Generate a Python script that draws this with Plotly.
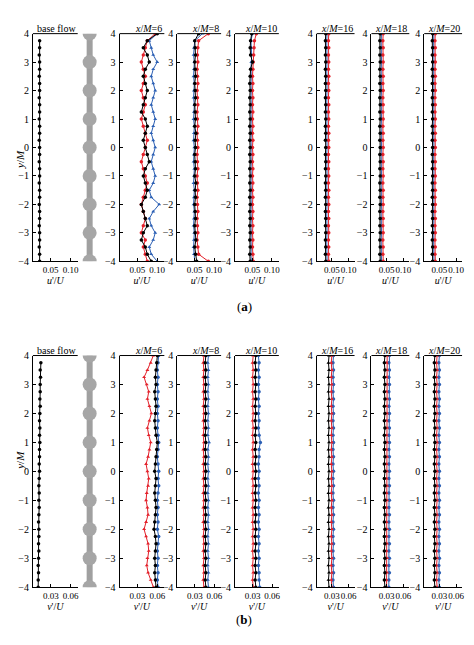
import plotly.graph_objects as go

W, H = 474, 645
y_pos = [-4, -3.75, -3.5, -3.25, -3, -2.75, -2.5, -2.25, -2, -1.75, -1.5, -1.25, -1, -0.75, -0.5, -0.25,
         0, 0.25, 0.5, 0.75, 1, 1.25, 1.5, 1.75, 2, 2.25, 2.5, 2.75, 3, 3.25, 3.5, 3.75, 4]
y_base = y_pos[:-1]
rod_nodes = [-4, -3, -2, -1, 0, 1, 2, 3, 4]
panel_titles = ["base flow", "<i>x</i>/<i>M</i>=6", "<i>x</i>/<i>M</i>=8", "<i>x</i>/<i>M</i>=10",
                "<i>x</i>/<i>M</i>=16", "<i>x</i>/<i>M</i>=18", "<i>x</i>/<i>M</i>=20"]
y_ticks = [-4, -3, -2, -1, 0, 1, 2, 3, 4]
u_ticks = [0.05, 0.10]
u_ticklabels = ["0.05", "0.10"]
v_ticks = [0.03, 0.06]
v_ticklabels = ["0.03", "0.06"]

# ---- u'/U (a)
u_base = [0.022, 0.022, 0.021, 0.022, 0.022, 0.021, 0.022, 0.022, 0.021, 0.022, 0.022, 0.021, 0.022, 0.022, 0.021, 0.022,
          0.022, 0.021, 0.022, 0.022, 0.021, 0.022, 0.022, 0.021, 0.022, 0.022, 0.021, 0.022, 0.022, 0.021, 0.022, 0.022]
u6_red = [0.075, 0.07, 0.065, 0.07, 0.06, 0.065, 0.07, 0.065, 0.06, 0.065, 0.07, 0.075, 0.07, 0.065, 0.06, 0.065,
          0.07, 0.075, 0.07, 0.065, 0.06, 0.065, 0.07, 0.065, 0.06, 0.065, 0.07, 0.065, 0.06, 0.065, 0.07, 0.075, 0.095]
u6_blue = [0.1, 0.085, 0.08, 0.09, 0.095, 0.085, 0.08, 0.09, 0.105, 0.085, 0.08, 0.09, 0.095, 0.09, 0.085, 0.09,
           0.095, 0.09, 0.085, 0.09, 0.095, 0.09, 0.085, 0.09, 0.095, 0.09, 0.085, 0.09, 0.1, 0.09, 0.085, 0.08, 0.1]
u6_black = [0.085, 0.075, 0.07, 0.06, 0.065, 0.075, 0.07, 0.065, 0.06, 0.07, 0.075, 0.07, 0.065, 0.07, 0.08, 0.075,
            0.07, 0.065, 0.07, 0.075, 0.07, 0.06, 0.065, 0.07, 0.075, 0.07, 0.065, 0.07, 0.08, 0.075, 0.065, 0.075, 0.1]
u8_red = [0.085, 0.06, 0.058, 0.056, 0.058, 0.057, 0.056, 0.058, 0.057, 0.056, 0.058, 0.057, 0.056, 0.058, 0.057, 0.056,
          0.058, 0.057, 0.056, 0.058, 0.057, 0.056, 0.058, 0.057, 0.056, 0.058, 0.057, 0.056, 0.058, 0.057, 0.058, 0.06, 0.085]
u8_blue = [0.05, 0.048, 0.047, 0.048, 0.049, 0.047, 0.048, 0.049, 0.047, 0.048, 0.049, 0.047, 0.048, 0.049, 0.047, 0.048,
           0.049, 0.047, 0.048, 0.049, 0.047, 0.048, 0.049, 0.047, 0.048, 0.049, 0.047, 0.048, 0.049, 0.047, 0.048, 0.05, 0.07]
u8_black = [0.055, 0.052, 0.05, 0.053, 0.051, 0.05, 0.052, 0.051, 0.05, 0.052, 0.051, 0.053, 0.05, 0.052, 0.051, 0.05,
            0.052, 0.051, 0.053, 0.05, 0.052, 0.051, 0.05, 0.052, 0.051, 0.05, 0.052, 0.051, 0.05, 0.052, 0.051, 0.05, 0.06]
u10_red = [0.052, 0.051, 0.05, 0.051, 0.05, 0.051, 0.05, 0.051, 0.05, 0.051, 0.05, 0.051, 0.05, 0.051, 0.05, 0.051,
           0.05, 0.051, 0.05, 0.051, 0.05, 0.051, 0.05, 0.051, 0.05, 0.051, 0.05, 0.051, 0.052, 0.053, 0.054, 0.055, 0.06]
u10_blue = [0.047, 0.046, 0.047, 0.046, 0.047, 0.046, 0.047, 0.046, 0.047, 0.046, 0.047, 0.046, 0.047, 0.046, 0.047, 0.046,
            0.047, 0.046, 0.047, 0.046, 0.047, 0.046, 0.047, 0.046, 0.047, 0.046, 0.047, 0.046, 0.047, 0.048, 0.047, 0.046, 0.05]
u10_black = [0.044, 0.043, 0.044, 0.043, 0.044, 0.043, 0.044, 0.043, 0.044, 0.043, 0.044, 0.043, 0.044, 0.043, 0.044, 0.043,
             0.044, 0.043, 0.044, 0.043, 0.044, 0.043, 0.044, 0.043, 0.044, 0.043, 0.044, 0.045, 0.05, 0.045, 0.044, 0.045, 0.048]
u16_red = [0.041, 0.04, 0.041, 0.04, 0.041, 0.04, 0.041, 0.04, 0.041, 0.04, 0.041, 0.04, 0.041, 0.04, 0.041, 0.04,
           0.041, 0.04, 0.041, 0.04, 0.041, 0.04, 0.041, 0.04, 0.041, 0.04, 0.041, 0.04, 0.041, 0.04, 0.041, 0.04, 0.041]
u16_blue = [0.036, 0.035, 0.036, 0.035, 0.036, 0.035, 0.036, 0.035, 0.036, 0.035, 0.036, 0.035, 0.036, 0.035, 0.036, 0.035,
            0.036, 0.035, 0.036, 0.035, 0.036, 0.035, 0.036, 0.035, 0.036, 0.035, 0.036, 0.035, 0.036, 0.035, 0.036, 0.035, 0.036]
u16_black = [0.032, 0.031, 0.032, 0.031, 0.032, 0.031, 0.032, 0.031, 0.032, 0.031, 0.032, 0.031, 0.032, 0.031, 0.032, 0.031,
             0.032, 0.031, 0.032, 0.031, 0.032, 0.031, 0.032, 0.031, 0.032, 0.031, 0.032, 0.031, 0.032, 0.031, 0.032, 0.031, 0.032]
u18_red = [0.04, 0.039, 0.04, 0.039, 0.04, 0.039, 0.04, 0.039, 0.04, 0.039, 0.04, 0.039, 0.04, 0.039, 0.04, 0.039,
           0.04, 0.039, 0.04, 0.039, 0.04, 0.039, 0.04, 0.039, 0.04, 0.039, 0.04, 0.039, 0.04, 0.039, 0.04, 0.039, 0.04]
u18_blue = [0.035, 0.034, 0.035, 0.034, 0.035, 0.034, 0.035, 0.034, 0.035, 0.034, 0.035, 0.034, 0.035, 0.034, 0.035, 0.034,
            0.035, 0.034, 0.035, 0.034, 0.035, 0.034, 0.035, 0.034, 0.035, 0.034, 0.035, 0.034, 0.035, 0.034, 0.035, 0.034, 0.035]
u18_black = [0.031, 0.03, 0.031, 0.03, 0.031, 0.03, 0.031, 0.03, 0.031, 0.03, 0.031, 0.03, 0.031, 0.03, 0.031, 0.03,
             0.031, 0.03, 0.031, 0.03, 0.031, 0.03, 0.031, 0.03, 0.031, 0.03, 0.031, 0.03, 0.031, 0.03, 0.031, 0.03, 0.031]
u20_red = [0.038, 0.037, 0.038, 0.037, 0.038, 0.037, 0.038, 0.037, 0.038, 0.037, 0.038, 0.037, 0.038, 0.037, 0.038, 0.037,
           0.038, 0.037, 0.038, 0.037, 0.038, 0.037, 0.038, 0.037, 0.038, 0.037, 0.038, 0.037, 0.038, 0.037, 0.038, 0.037, 0.038]
u20_blue = [0.034, 0.033, 0.034, 0.033, 0.034, 0.033, 0.034, 0.033, 0.034, 0.033, 0.034, 0.033, 0.034, 0.033, 0.034, 0.033,
            0.034, 0.033, 0.034, 0.033, 0.034, 0.033, 0.034, 0.033, 0.034, 0.033, 0.034, 0.033, 0.034, 0.033, 0.034, 0.033, 0.034]
u20_black = [0.03, 0.029, 0.03, 0.029, 0.03, 0.029, 0.03, 0.029, 0.03, 0.029, 0.03, 0.029, 0.03, 0.029, 0.03, 0.029,
             0.03, 0.029, 0.03, 0.029, 0.03, 0.029, 0.03, 0.029, 0.03, 0.029, 0.03, 0.029, 0.03, 0.029, 0.03, 0.029, 0.03]

# ---- v'/U (b)
v_base = [0.011, 0.011, 0.0115, 0.011, 0.0115, 0.012, 0.0115, 0.012, 0.012, 0.0115, 0.012, 0.0125, 0.012, 0.0125, 0.012, 0.0125,
          0.013, 0.0125, 0.013, 0.013, 0.0135, 0.013, 0.0135, 0.013, 0.0135, 0.014, 0.0135, 0.014, 0.014, 0.0145, 0.014, 0.015]
v6_red = [0.054, 0.05, 0.046, 0.044, 0.045, 0.047, 0.046, 0.043, 0.04, 0.043, 0.046, 0.045, 0.043, 0.044, 0.046, 0.047,
          0.045, 0.043, 0.046, 0.048, 0.05, 0.047, 0.045, 0.048, 0.051, 0.048, 0.045, 0.047, 0.044, 0.04, 0.045, 0.05, 0.054]
v6_black = [0.058, 0.057, 0.056, 0.057, 0.056, 0.057, 0.058, 0.057, 0.055, 0.056, 0.057, 0.058, 0.057, 0.056, 0.057, 0.058,
            0.056, 0.057, 0.058, 0.059, 0.06, 0.058, 0.057, 0.056, 0.057, 0.058, 0.057, 0.056, 0.058, 0.057, 0.058, 0.059, 0.06]
v6_blue = [0.061, 0.06, 0.061, 0.06, 0.061, 0.06, 0.061, 0.062, 0.06, 0.061, 0.06, 0.061, 0.06, 0.061, 0.062, 0.061,
           0.062, 0.061, 0.06, 0.061, 0.062, 0.061, 0.06, 0.061, 0.06, 0.061, 0.06, 0.061, 0.06, 0.061, 0.06, 0.061, 0.062]
v8_red = [0.044, 0.043, 0.044, 0.043, 0.044, 0.043, 0.044, 0.043, 0.044, 0.043, 0.044, 0.043, 0.044, 0.043, 0.044, 0.043,
          0.044, 0.043, 0.044, 0.043, 0.044, 0.043, 0.044, 0.043, 0.044, 0.043, 0.044, 0.043, 0.044, 0.043, 0.044, 0.043, 0.044]
v8_black = [0.047, 0.046, 0.047, 0.046, 0.047, 0.046, 0.047, 0.046, 0.047, 0.046, 0.047, 0.046, 0.047, 0.046, 0.047, 0.046,
            0.047, 0.046, 0.047, 0.046, 0.047, 0.046, 0.047, 0.046, 0.047, 0.046, 0.047, 0.046, 0.047, 0.046, 0.047, 0.046, 0.047]
v8_blue = [0.051, 0.05, 0.051, 0.05, 0.051, 0.05, 0.051, 0.05, 0.051, 0.05, 0.051, 0.05, 0.051, 0.05, 0.051, 0.05,
           0.051, 0.05, 0.051, 0.05, 0.052, 0.05, 0.051, 0.05, 0.051, 0.05, 0.051, 0.05, 0.051, 0.05, 0.051, 0.05, 0.051]
v10_red = [0.031, 0.03, 0.031, 0.03, 0.031, 0.03, 0.031, 0.03, 0.031, 0.03, 0.031, 0.03, 0.031, 0.03, 0.031, 0.03,
           0.031, 0.03, 0.031, 0.03, 0.031, 0.03, 0.031, 0.03, 0.031, 0.03, 0.031, 0.03, 0.031, 0.03, 0.031, 0.03, 0.031]
v10_black = [0.035, 0.034, 0.035, 0.034, 0.035, 0.034, 0.035, 0.034, 0.035, 0.034, 0.035, 0.034, 0.035, 0.034, 0.035, 0.034,
             0.035, 0.034, 0.035, 0.034, 0.035, 0.034, 0.035, 0.034, 0.035, 0.034, 0.035, 0.034, 0.035, 0.034, 0.035, 0.034, 0.035]
v10_blue = [0.041, 0.04, 0.04, 0.039, 0.04, 0.039, 0.04, 0.039, 0.04, 0.039, 0.04, 0.039, 0.04, 0.039, 0.04, 0.039,
            0.04, 0.039, 0.04, 0.04, 0.042, 0.04, 0.039, 0.04, 0.039, 0.04, 0.039, 0.04, 0.039, 0.04, 0.039, 0.04, 0.039]
v16_black = [0.025, 0.024, 0.025, 0.024, 0.025, 0.024, 0.025, 0.024, 0.025, 0.024, 0.025, 0.024, 0.025, 0.024, 0.025, 0.024,
             0.025, 0.024, 0.025, 0.024, 0.025, 0.024, 0.025, 0.024, 0.025, 0.024, 0.025, 0.024, 0.025, 0.024, 0.025, 0.024, 0.025]
v16_red = [0.03, 0.029, 0.03, 0.029, 0.03, 0.029, 0.03, 0.029, 0.03, 0.029, 0.03, 0.029, 0.03, 0.029, 0.03, 0.029,
           0.03, 0.029, 0.03, 0.029, 0.03, 0.029, 0.03, 0.029, 0.03, 0.029, 0.03, 0.029, 0.03, 0.029, 0.03, 0.029, 0.03]
v16_blue = [0.033, 0.032, 0.033, 0.032, 0.033, 0.032, 0.033, 0.032, 0.033, 0.032, 0.033, 0.032, 0.033, 0.032, 0.033, 0.032,
            0.033, 0.032, 0.033, 0.032, 0.033, 0.032, 0.033, 0.032, 0.033, 0.032, 0.033, 0.032, 0.033, 0.032, 0.033, 0.032, 0.033]
v18_black = [0.027, 0.026, 0.027, 0.026, 0.027, 0.026, 0.027, 0.026, 0.027, 0.026, 0.027, 0.026, 0.027, 0.026, 0.027, 0.026,
             0.027, 0.026, 0.027, 0.026, 0.027, 0.026, 0.027, 0.026, 0.027, 0.026, 0.027, 0.026, 0.027, 0.026, 0.027, 0.026, 0.027]
v18_red = [0.03, 0.03, 0.031, 0.03, 0.031, 0.03, 0.031, 0.03, 0.031, 0.03, 0.031, 0.03, 0.031, 0.03, 0.031, 0.03,
           0.031, 0.03, 0.031, 0.03, 0.031, 0.03, 0.031, 0.03, 0.031, 0.03, 0.031, 0.03, 0.031, 0.03, 0.031, 0.03, 0.031]
v18_blue = [0.034, 0.034, 0.035, 0.034, 0.035, 0.034, 0.035, 0.034, 0.035, 0.034, 0.035, 0.034, 0.035, 0.034, 0.035, 0.034,
            0.035, 0.034, 0.035, 0.034, 0.035, 0.034, 0.035, 0.034, 0.035, 0.034, 0.035, 0.034, 0.035, 0.034, 0.035, 0.034, 0.035]
v20_black = [0.022, 0.021, 0.022, 0.021, 0.022, 0.021, 0.022, 0.021, 0.022, 0.021, 0.022, 0.021, 0.022, 0.021, 0.022, 0.021,
             0.022, 0.021, 0.022, 0.021, 0.022, 0.021, 0.022, 0.021, 0.022, 0.021, 0.022, 0.021, 0.022, 0.021, 0.022, 0.021, 0.022]
v20_red = [0.026, 0.025, 0.026, 0.025, 0.026, 0.025, 0.026, 0.025, 0.026, 0.025, 0.026, 0.025, 0.026, 0.025, 0.026, 0.025,
           0.026, 0.025, 0.026, 0.025, 0.026, 0.025, 0.026, 0.025, 0.026, 0.025, 0.026, 0.025, 0.026, 0.025, 0.026, 0.025, 0.026]
v20_blue = [0.03, 0.029, 0.03, 0.029, 0.03, 0.029, 0.03, 0.029, 0.03, 0.029, 0.03, 0.029, 0.03, 0.029, 0.03, 0.029,
            0.03, 0.029, 0.03, 0.029, 0.03, 0.029, 0.03, 0.029, 0.03, 0.029, 0.03, 0.029, 0.03, 0.029, 0.03, 0.029, 0.03]

RED, BLUE, BLACK = "#e3202a", "#2b5fb4", "#000000"
u_sets = [[(u_base, BLACK, "circle")],
          [(u6_blue, BLUE, "triangle-up"), (u6_red, RED, "circle"), (u6_black, BLACK, "circle")],
          [(u8_blue, BLUE, "triangle-up"), (u8_red, RED, "circle"), (u8_black, BLACK, "circle")],
          [(u10_blue, BLUE, "triangle-up"), (u10_red, RED, "circle"), (u10_black, BLACK, "circle")],
          [(u16_blue, BLUE, "triangle-up"), (u16_red, RED, "circle"), (u16_black, BLACK, "circle")],
          [(u18_blue, BLUE, "triangle-up"), (u18_red, RED, "circle"), (u18_black, BLACK, "circle")],
          [(u20_blue, BLUE, "triangle-up"), (u20_red, RED, "circle"), (u20_black, BLACK, "circle")]]
v_sets = [[(v_base, BLACK, "circle")],
          [(v6_blue, BLUE, "circle"), (v6_red, RED, "triangle-up"), (v6_black, BLACK, "circle")],
          [(v8_blue, BLUE, "triangle-up"), (v8_red, RED, "triangle-up"), (v8_black, BLACK, "circle")],
          [(v10_blue, BLUE, "circle"), (v10_red, RED, "triangle-up"), (v10_black, BLACK, "circle")],
          [(v16_blue, BLUE, "circle"), (v16_red, RED, "triangle-up"), (v16_black, BLACK, "triangle-up")],
          [(v18_blue, BLUE, "circle"), (v18_red, RED, "triangle-up"), (v18_black, BLACK, "circle")],
          [(v20_blue, BLUE, "circle"), (v20_red, RED, "triangle-up"), (v20_black, BLACK, "circle")]]

# layout geometry (pixels)
panel_px = [(25, 70), (112, 157), (170, 214), (228, 272), (310, 348), (365, 403), (418, 456)]
rows = [dict(top=20, bot=252, sets=u_sets, rng=[0.005, 0.118], ticks=u_ticks, tl=u_ticklabels,
             xl="<i>u</i>'/<i>U</i>", tag="(<b>a</b>)", tagy=298),
        dict(top=348, bot=584, sets=v_sets, rng=[0.003, 0.0705], ticks=v_ticks, tl=v_ticklabels,
             xl="<i>v</i>'/<i>U</i>", tag="(<b>b</b>)", tagy=627)]

FONT = "Liberation Serif"
fig = go.Figure()
layout = {}
ann = []
k = 0
for r in rows:
    yd = [1 - r["bot"] / H, 1 - r["top"] / H]
    for p, (x0, x1) in enumerate(panel_px):
        k += 1
        xa, ya = ("x" if k == 1 else f"x{k}"), ("y" if k == 1 else f"y{k}")
        for vals, col, sym in r["sets"][p]:
            yy = y_base if p == 0 else y_pos
            fig.add_trace(go.Scatter(x=vals, y=yy[:len(vals)], mode="lines+markers", xaxis=xa, yaxis=ya,
                                     line=dict(color=col, width=1),
                                     marker=dict(color=col, symbol=sym, size=3.5), showlegend=False))
        common = dict(showline=True, linecolor="black", linewidth=1, mirror=False, showgrid=False,
                      zeroline=False, ticks="inside", ticklen=3, tickcolor="black")
        layout[f"xaxis{'' if k == 1 else k}"] = dict(common, domain=[x0 / W, x1 / W], range=r["rng"],
                                                     tickvals=r["ticks"], ticktext=r["tl"], anchor=ya,
                                                     tickangle=0,
                                                     tickfont=dict(family=FONT, size=9, color="black"),
                                                     title=dict(text=r["xl"], standoff=2,
                                                                font=dict(family=FONT, size=10, color="black")))
        layout[f"yaxis{'' if k == 1 else k}"] = dict(common, domain=yd, range=[-4, 4], tickvals=y_ticks,
                                                     anchor=xa, ticklabelstandoff=1,
                                                     tickfont=dict(family=FONT, size=10, color="black"))
        fig.add_shape(type="line", xref=f"{xa} domain", yref=f"{ya} domain", x0=0, x1=1, y0=1, y1=1,
                      line=dict(color="black", width=1))
        ann.append(dict(text=panel_titles[p], xref=f"{xa} domain", yref=f"{ya} domain", x=1, y=1,
                        xanchor="right", yanchor="bottom", showarrow=False, yshift=-2,
                        font=dict(family=FONT, size=10, color="black")))
    # rod
    k += 1
    xa, ya = f"x{k}", f"y{k}"
    fig.add_trace(go.Scatter(x=[0, 0], y=[rod_nodes[0], rod_nodes[-1]], mode="lines", xaxis=xa, yaxis=ya,
                             line=dict(color="#a0a0a0", width=6), showlegend=False))
    fig.add_trace(go.Scatter(x=[0] * len(rod_nodes), y=rod_nodes, mode="markers", xaxis=xa, yaxis=ya,
                             marker=dict(color="#a6a6a6", size=14), showlegend=False))
    layout[f"xaxis{k}"] = dict(domain=[72 / W, 92 / W], range=[-1, 1], visible=False, anchor=ya)
    layout[f"yaxis{k}"] = dict(domain=yd, range=[-4, 4], visible=False, anchor=xa)
    ann.append(dict(text=r["tag"], x=237 / W, y=1 - r["tagy"] / H, xref="paper", yref="paper",
                    showarrow=False, font=dict(family=FONT, size=13, color="black")))
    ann.append(dict(text="<i>y</i>/<i>M</i>", x=4 / W, y=sum(yd) / 2, xref="paper", yref="paper",
                    textangle=-90, showarrow=False, font=dict(family=FONT, size=11, color="black")))

fig.update_layout(width=W, height=H, margin=dict(l=0, r=0, t=0, b=0), plot_bgcolor="white",
                  paper_bgcolor="white", annotations=ann, **layout)
fig.write_html("out.html")
